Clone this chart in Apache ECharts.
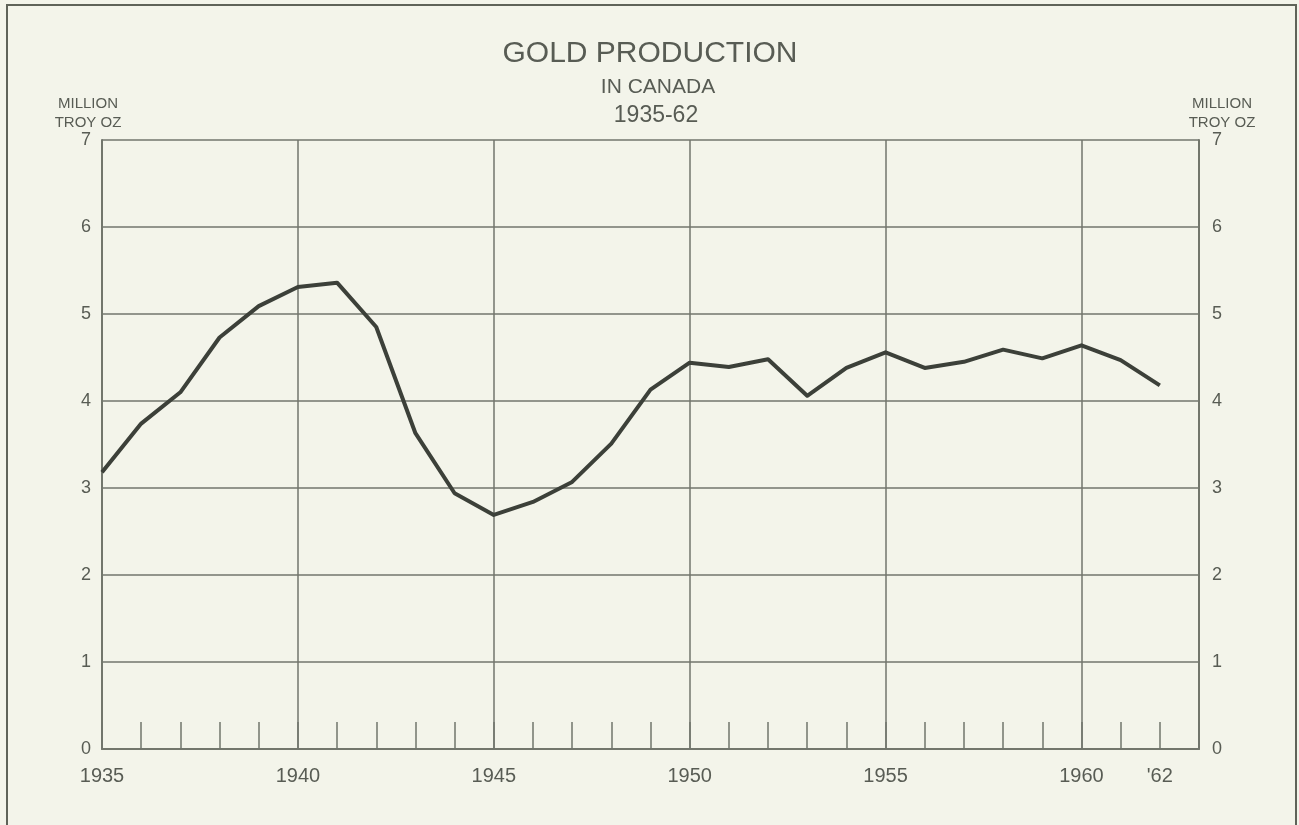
<!DOCTYPE html>
<html>
<head>
<meta charset="utf-8">
<script src="https://cdn.jsdelivr.net/npm/echarts@6/dist/echarts.min.js"></script>
<style>
html,body{margin:0;padding:0;background:#f3f4ea;}
#chart{width:1299px;height:825px;}
</style>
</head>
<body>
<div id="chart"></div>
<script>
const years = [1935,1936,1937,1938,1939,1940,1941,1942,1943,1944,1945,1946,1947,1948,1949,1950,1951,1952,1953,1954,1955,1956,1957,1958,1959,1960,1961,1962];
const production = [3.18,3.74,4.10,4.73,5.09,5.31,5.36,4.85,3.63,2.94,2.69,2.84,3.07,3.51,4.13,4.44,4.39,4.48,4.06,4.38,4.56,4.38,4.45,4.59,4.49,4.64,4.47,4.18];
const labeledYears = {1935:'1935',1940:'1940',1945:'1945',1950:'1950',1955:'1955',1960:'1960',1962:"'62"};
const yTicks = [0,1,2,3,4,5,6,7];
const titleText = 'GOLD PRODUCTION';
const subtitle1 = 'IN CANADA';
const subtitle2 = '1935-62';
const unitText = 'MILLION\nTROY OZ';

const textColor = '#585c54';
const gridColor = '#72766c';
const font = '"Liberation Sans", "DejaVu Sans", sans-serif';

const chart = echarts.init(document.getElementById('chart'));
chart.setOption({
  backgroundColor: '#f3f4ea',
  animation: false,
  title: [
    {text: titleText, left: 645, top: 34, textAlign: 'center',
     textStyle: {fontFamily: font, fontWeight: 'normal', fontSize: 30, color: textColor}},
    {text: subtitle1, left: 653, top: 72, textAlign: 'center',
     textStyle: {fontFamily: font, fontWeight: 'normal', fontSize: 21, color: textColor}},
    {text: subtitle2, left: 651, top: 99, textAlign: 'center',
     textStyle: {fontFamily: font, fontWeight: 'normal', fontSize: 23, color: textColor}},
    {text: unitText, left: 83, top: 89, textAlign: 'center',
     textStyle: {fontFamily: font, fontWeight: 'normal', fontSize: 15, lineHeight: 19, color: textColor}},
    {text: unitText, left: 1217, top: 89, textAlign: 'center',
     textStyle: {fontFamily: font, fontWeight: 'normal', fontSize: 15, lineHeight: 19, color: textColor}}
  ],
  graphic: [
    {type: 'rect', shape: {x: 7, y: 5, width: 1289, height: 830},
     style: {fill: 'none', stroke: '#5f6359', lineWidth: 2}, silent: true}
  ],
  grid: {left: 102, right: 100, top: 140, bottom: 76, containLabel: false},
  xAxis: [
    {type: 'value', min: 1935, max: 1963, interval: 1,
     axisLine: {show: true, lineStyle: {color: gridColor, width: 2}},
     axisTick: {show: true, inside: true, length: 27, lineStyle: {color: gridColor, width: 1.5}},
     axisLabel: {margin: 17, fontFamily: font, fontSize: 20, color: textColor,
       formatter: v => labeledYears[v] || ''},
     splitLine: {show: false}},
    {type: 'value', min: 1935, max: 1963, interval: 5, position: 'bottom',
     axisLine: {show: false}, axisTick: {show: false}, axisLabel: {show: false},
     splitLine: {show: true, lineStyle: {color: gridColor, width: 1.5}}}
  ],
  yAxis: [
    {type: 'value', min: 0, max: 7, interval: 1, position: 'left',
     axisLine: {show: true, lineStyle: {color: gridColor, width: 2}},
     axisTick: {show: false},
     axisLabel: {margin: 11, fontFamily: font, fontSize: 18, color: textColor,
       formatter: v => yTicks.includes(v) ? String(v) : ''},
     splitLine: {show: true, lineStyle: {color: gridColor, width: 1.5}}},
    {type: 'value', min: 0, max: 7, interval: 1, position: 'right',
     axisLine: {show: true, lineStyle: {color: gridColor, width: 2}},
     axisTick: {show: false},
     axisLabel: {margin: 13, fontFamily: font, fontSize: 18, color: textColor,
       formatter: v => yTicks.includes(v) ? String(v) : ''},
     splitLine: {show: false}}
  ],
  series: [{
    type: 'line',
    xAxisIndex: 0, yAxisIndex: 0,
    data: years.map((y, i) => [y, production[i]]),
    symbol: 'none',
    lineStyle: {color: '#3c4039', width: 4, join: 'round'}
  }]
});
</script>
</body>
</html>
